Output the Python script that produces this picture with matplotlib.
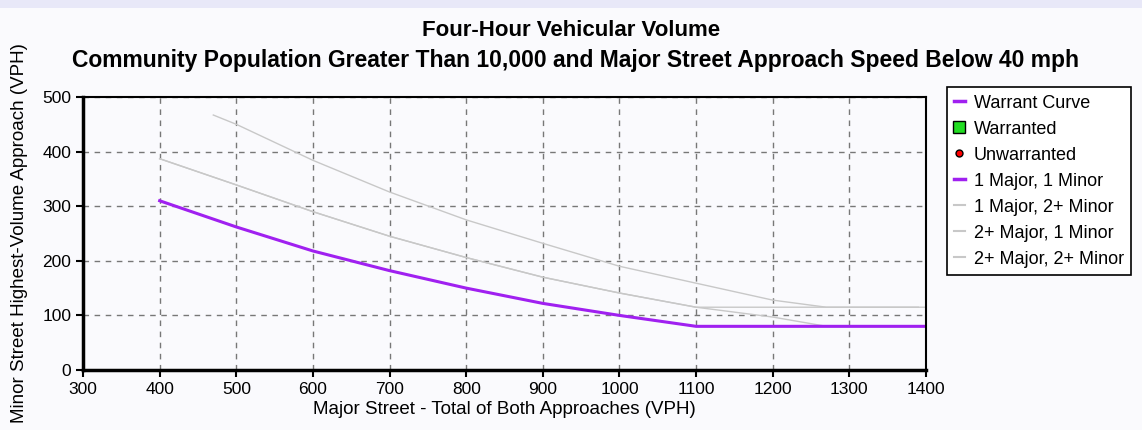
import matplotlib.pyplot as plt
from matplotlib.lines import Line2D
from matplotlib.patches import Rectangle

# valeurs
major_11 = [400, 500, 600, 700, 800, 900, 1000, 1100, 1400]
minor_11 = [310, 262, 218, 182, 150, 122, 100, 80, 80]

major_12 = [400, 500, 600, 700, 800, 900, 1000, 1100, 1400]
minor_12 = [387, 339, 290, 245, 206, 170, 141, 115, 115]

major_21 = [400, 500, 600, 700, 800, 900, 1000, 1100, 1200, 1270, 1400]
minor_21 = [387, 339, 290, 245, 206, 170, 141, 115, 97, 80, 80]

major_22 = [470, 500, 600, 700, 800, 900, 1000, 1100, 1200, 1270, 1390]
minor_22 = [467, 450, 384, 326, 275, 232, 190, 159, 128, 115, 115]

x_ticks = [300, 400, 500, 600, 700, 800, 900, 1000, 1100, 1200, 1300, 1400]
y_ticks = [0, 100, 200, 300, 400, 500]

purple = '#a020f0'
gray = '#c8c8c8'

plt.rcParams['font.family'] = ['Liberation Sans', 'DejaVu Sans']

fig = plt.figure(figsize=(11.42, 4.30), dpi=100, facecolor='#fafafd')
fig.patches.append(Rectangle((0, 0.982), 1, 0.018, transform=fig.transFigure,
                             facecolor='#e8e8f8', edgecolor='none'))
ax = fig.add_axes([0.0727, 0.1395, 0.7382, 0.6349])
ax.set_facecolor('#fafafd')

ax.plot(major_22, minor_22, color=gray, lw=1)
ax.plot(major_21, minor_21, color=gray, lw=1)
ax.plot(major_12, minor_12, color=gray, lw=1)
ax.plot(major_11, minor_11, color=purple, lw=2.2)

ax.set_xlim(300, 1400)
ax.set_ylim(0, 500)
ax.set_xticks(x_ticks)
ax.set_yticks(y_ticks)
ax.tick_params(labelsize=12.5, direction='out', length=5, width=1.5)
ax.grid(True, linestyle=(0, (4, 4)), color='#777777', lw=1)
for side in ['left', 'bottom']:
    ax.spines[side].set_linewidth(2.5)
for side in ['top', 'right']:
    ax.spines[side].set_linewidth(1.5)

ax.set_xlabel('Major Street - Total of Both Approaches (VPH)', fontsize=13.5, labelpad=3)
ax.set_ylabel('Minor Street Highest-Volume Approach (VPH)', fontsize=13.5, labelpad=10)

fig.text(0.5, 0.928, 'Four-Hour Vehicular Volume', ha='center', va='center',
         fontsize=16, fontweight='bold')
fig.text(0.504, 0.86, 'Community Population Greater Than 10,000 and Major Street Approach Speed Below 40 mph',
         ha='center', va='center', fontsize=16.5, fontweight='bold')

handles = [
    Line2D([], [], color=purple, lw=2.5),
    Line2D([], [], ls='none', marker='s', markersize=8, markerfacecolor='#22dd22', markeredgecolor='black'),
    Line2D([], [], ls='none', marker='o', markersize=5, markerfacecolor='red', markeredgecolor='black'),
    Line2D([], [], color=purple, lw=2.5),
    Line2D([], [], color=gray, lw=1.5),
    Line2D([], [], color=gray, lw=1.5),
    Line2D([], [], color=gray, lw=1.5),
]
labels = ['Warrant Curve', 'Warranted', 'Unwarranted', '1 Major, 1 Minor',
          '1 Major, 2+ Minor', '2+ Major, 1 Minor', '2+ Major, 2+ Minor']
leg = fig.legend(handles, labels, loc='upper left', bbox_to_anchor=(0.829, 0.797),
                 fontsize=13, handlelength=0.6, handletextpad=0.5, labelspacing=0.5,
                 borderpad=0.4, borderaxespad=0, fancybox=False, framealpha=1, edgecolor='black')
leg.get_frame().set_linewidth(1.2)

fig.savefig('out.png', dpi=100, facecolor=fig.get_facecolor())
